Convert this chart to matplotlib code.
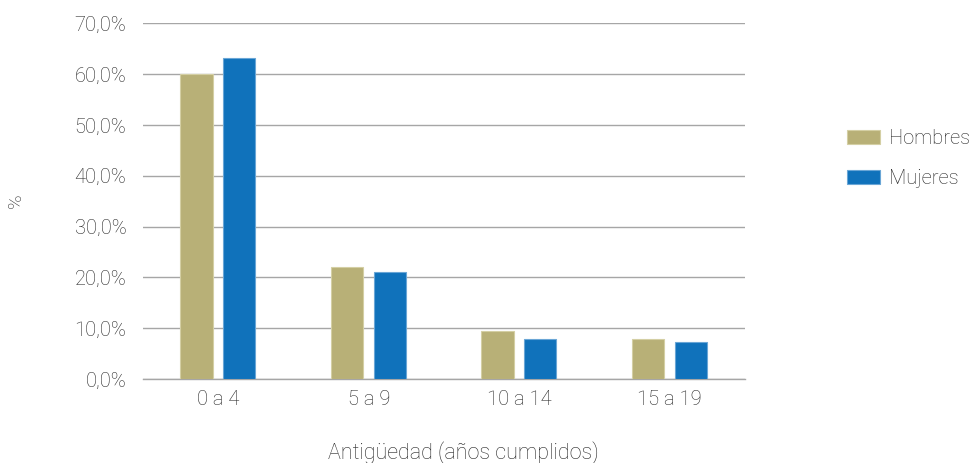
import numpy as np
import matplotlib.pyplot as plt
from matplotlib.ticker import FuncFormatter

categorias = ["0 a 4", "5 a 9", "10 a 14", "15 a 19"]
hombres = [60.0, 22.0, 9.4, 8.0]
mujeres = [63.1, 21.0, 8.0, 7.4]

plt.rcParams["font.family"] = ["Roboto", "DejaVu Sans"]
plt.rcParams["font.weight"] = "light"
plt.rcParams["axes.labelweight"] = "light"

texto = "#262626"
gris = "#a6a6a6"

fig = plt.figure(figsize=(9.79, 4.63), dpi=100)
ax = fig.add_axes([0.146, 0.181, 0.615, 0.769])

x = np.arange(len(categorias))
ancho = 0.215
ax.bar(x - 0.145, hombres, ancho, color="#b8b077", edgecolor="#d4cfa4",
       linewidth=0.8, label="Hombres", zorder=3)
ax.bar(x + 0.14, mujeres, ancho, color="#1072bb", edgecolor="#6aa6d6",
       linewidth=0.8, label="Mujeres", zorder=3)

ax.set_xlim(-0.5, len(categorias) - 0.5)
ax.set_ylim(0, 70)
ax.set_yticks(np.arange(0, 71, 10))
ax.yaxis.set_major_formatter(FuncFormatter(lambda v, p: f"{v:.1f}%".replace(".", ",")))
ax.set_xticks(x)
ax.set_xticklabels(categorias)

ax.grid(axis="y", color=gris, linewidth=1, zorder=0)
for s in ["top", "right", "left"]:
    ax.spines[s].set_visible(False)
ax.spines["bottom"].set_color(gris)
ax.spines["bottom"].set_linewidth(1)
ax.tick_params(axis="y", length=0, labelsize=14.5, labelcolor=texto, pad=12)
ax.tick_params(axis="x", length=0, labelsize=14.5, labelcolor=texto, pad=8)

ax.set_xlabel("Antigüedad (años cumplidos)", fontsize=15.5, color=texto,
              fontweight="light", va="center")
ax.xaxis.set_label_coords(0.532, -0.207)
ax.set_ylabel("%", fontsize=14, color=texto, fontweight="light", va="center")
ax.yaxis.set_label_coords(-0.211, 0.5)

ax.legend(loc="center left", bbox_to_anchor=(1.14, 0.62), frameon=False,
          fontsize=14.5, labelcolor=texto, handlelength=1.6, handleheight=0.7,
          labelspacing=1.05, handletextpad=0.45)

fig.savefig("out.png", dpi=100)
